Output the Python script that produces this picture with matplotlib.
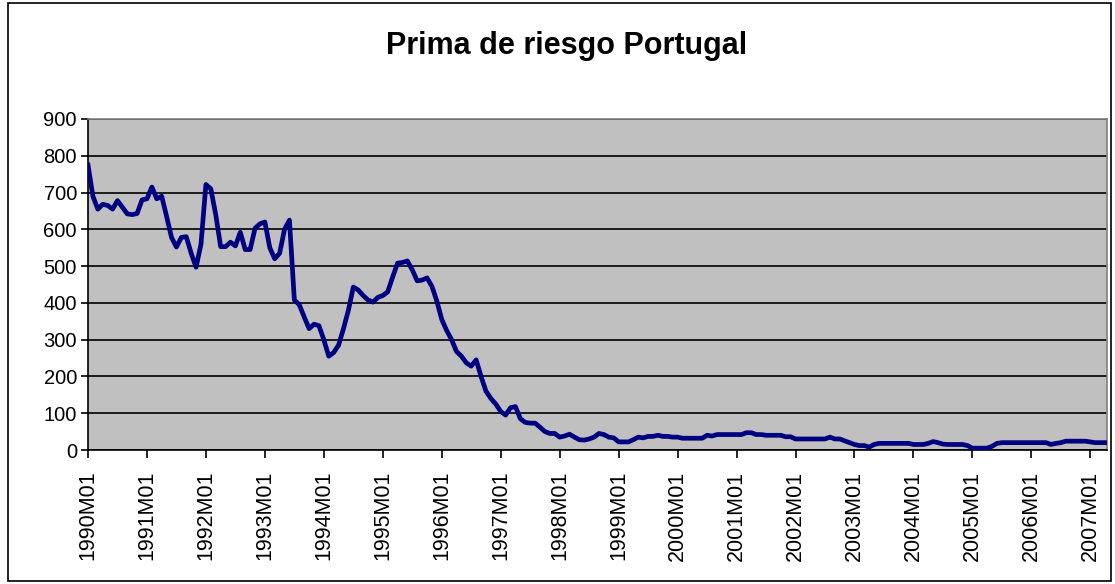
import numpy as np
import matplotlib
matplotlib.use("Agg")
import matplotlib.pyplot as plt
from matplotlib.patches import Rectangle

plt.rcParams['font.family'] = ['Liberation Sans', 'DejaVu Sans']

title = "Prima de riesgo Portugal"
start_year = 1990
end_year = 2007

# monthly spread, 1990M01 .. 2007M04
spread = [
    # 1990
    775, 690, 655, 668, 665, 655, 678, 660, 642, 640, 643, 680,
    # 1991
    683, 715, 683, 690, 635, 578, 552, 578, 580, 535, 497, 560,
    # 1992
    722, 710, 640, 553, 553, 565, 555, 592, 545, 545, 603, 615,
    # 1993
    620, 550, 520, 535, 600, 625, 408, 395, 362, 330, 342, 338,
    # 1994
    300, 255, 265, 285, 330, 380, 443, 435, 420, 408, 402, 415,
    # 1995
    420, 430, 470, 508, 510, 514, 490, 460, 462, 468, 445, 405,
    # 1996
    355, 325, 300, 268, 255, 237, 228, 245, 200, 160, 140, 125,
    # 1997
    105, 95, 115, 118, 85, 75, 73, 73, 62, 50, 45, 45,
    # 1998
    35, 38, 43, 35, 28, 27, 30, 35, 45, 42, 35, 33,
    # 1999
    22, 22, 22, 28, 35, 33, 37, 37, 40, 37, 37, 35,
    # 2000
    35, 32, 32, 32, 32, 32, 40, 38, 42, 42, 42, 42,
    # 2001
    42, 42, 47, 47, 42, 42, 40, 40, 40, 40, 36, 36,
    # 2002
    30, 30, 30, 30, 30, 30, 30, 35, 30, 30, 25, 20,
    # 2003
    15, 12, 12, 8, 15, 18, 18, 18, 18, 18, 18, 18,
    # 2004
    15, 15, 15, 18, 23, 20, 16, 15, 15, 15, 15, 12,
    # 2005
    5, 5, 5, 5, 10, 18, 20, 20, 20, 20, 20, 20,
    # 2006
    20, 20, 20, 20, 15, 18, 20, 24, 24, 24, 24, 24,
    # 2007
    22, 20, 20, 20,
]

tick_labels = [f"{y}M01" for y in range(start_year, end_year + 1)]
y_ticks = list(range(0, 901, 100))

fig = plt.figure(figsize=(11.15, 5.84), dpi=100)
ax = fig.add_axes([88 / 1115, 1 - 450 / 584, (1107 - 88) / 1115, (450 - 119) / 584])
ax.set_facecolor('#C0C0C0')

x = np.arange(len(spread))
ax.plot(x, spread, color='#000080', lw=3.4, solid_joinstyle='round', zorder=3)

ax.set_xlim(0, len(spread) - 0.6)
ax.set_ylim(0, 900)
ax.set_yticks(y_ticks)
ax.set_xticks(np.arange(0, len(spread), 12))
ax.set_xticklabels(tick_labels, rotation=90, fontsize=15.5)
ax.tick_params(axis='y', labelsize=14.5, length=5, width=1.2, color='black', pad=3)
ax.tick_params(axis='x', length=6, width=1.2, color='black', pad=9)
ax.grid(axis='y', color='black', lw=1.2, zorder=1)
ax.set_axisbelow(True)

for side in ('top', 'right'):
    ax.spines[side].set_color('#808080')
    ax.spines[side].set_linewidth(1.2)
for side in ('left', 'bottom'):
    ax.spines[side].set_color('black')
    ax.spines[side].set_linewidth(1.2)

fig.text(567 / 1115, 1 - 46 / 584, title, ha='center', va='center',
         fontsize=22, fontweight='bold')

# outer chart border
fig.patches.append(Rectangle((8 / 1115, 3 / 584), (1111 - 8) / 1115, (581 - 3) / 584,
                             transform=fig.transFigure, fill=False,
                             edgecolor='black', lw=1.2))

fig.savefig('out.png', dpi=100)
